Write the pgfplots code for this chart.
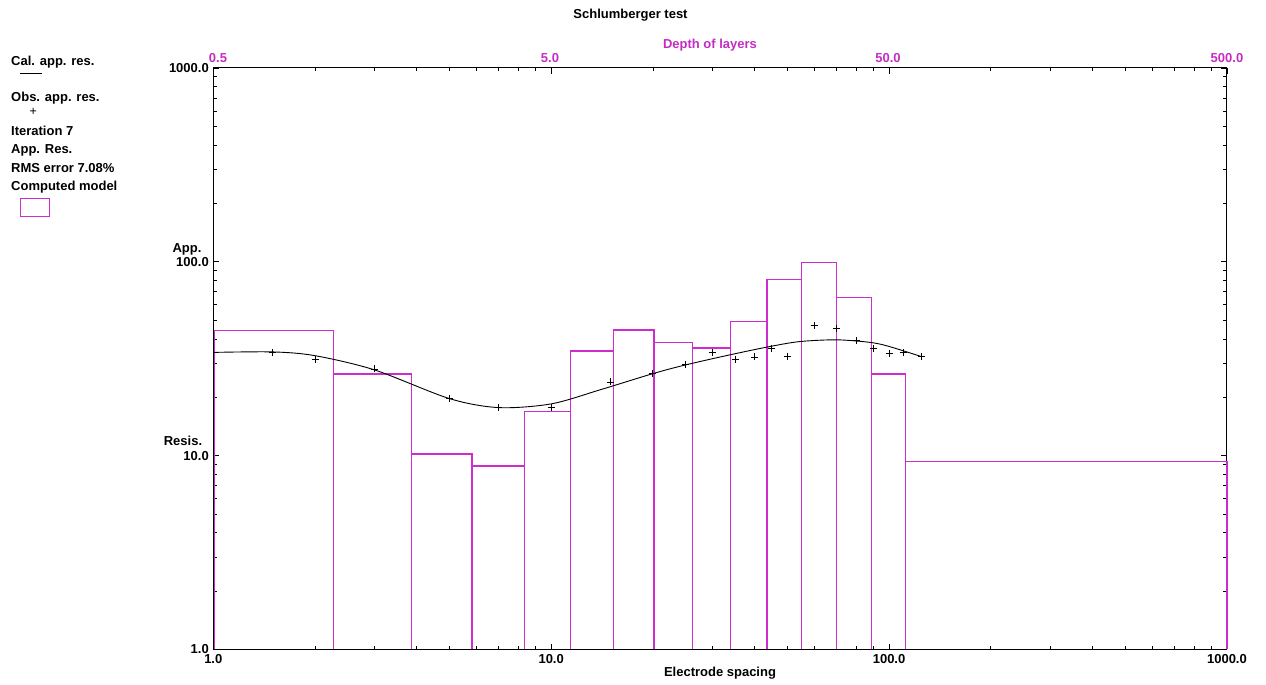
\documentclass[border=0pt]{standalone}
\usepackage{fontspec}
\setmainfont{Liberation Sans}
\usepackage{pgfplots}
\pgfplotsset{compat=1.18}
\definecolor{mag}{RGB}{205,45,205}
\definecolor{magtxt}{RGB}{195,45,195}
\begin{document}
\begin{tikzpicture}[x=1pt,y=1pt]
\tikzset{txt/.style={font=\fontsize{13}{14}\selectfont\bfseries, inner sep=0pt}}
\path[use as bounding box] (0,0) rectangle (1266,685);
\begin{axis}[
  at={(213.3pt,35.5pt)}, anchor=south west, scale only axis,
  width=1013.7pt, height=581.5pt,
  xmode=log, ymode=log,
  xmin=1, xmax=1000, ymin=1, ymax=1000,
  xtick={1,10,100,1000}, xticklabels={1.0,10.0,100.0,1000.0},
  ytick={1,10,100,1000}, yticklabels={1.0,10.0,100.0,1000.0},
  tick label style={font=\fontsize{13}{14}\selectfont\bfseries},
  xticklabel style={yshift=-1pt},
  yticklabel style={xshift=-1pt},
  major tick length=6pt, minor tick length=3.5pt,
  tick style={black, line width=0.8pt},
  axis line style={black, line width=1pt},
  tick align=inside,
  clip=false,
]
% computed model layers
\addplot[mag, line width=1.2pt] coordinates {(1.01,1) (1.01,44.2) (2.265,44.2) (2.265,1)};
\addplot[mag, line width=1.2pt] coordinates {(2.265,1) (2.265,26.4) (3.855,26.4) (3.855,1)};
\addplot[mag, line width=1.2pt] coordinates {(3.855,1) (3.855,10.2) (5.83,10.2) (5.83,1)};
\addplot[mag, line width=1.2pt] coordinates {(5.83,1) (5.83,8.85) (8.36,8.85) (8.36,1)};
\addplot[mag, line width=1.2pt] coordinates {(8.36,1) (8.36,16.9) (11.42,16.9) (11.42,1)};
\addplot[mag, line width=1.2pt] coordinates {(11.42,1) (11.42,34.7) (15.27,34.7) (15.27,1)};
\addplot[mag, line width=1.2pt] coordinates {(15.27,1) (15.27,44.5) (20.15,44.5) (20.15,1)};
\addplot[mag, line width=1.2pt] coordinates {(20.15,1) (20.15,38.3) (26.16,38.3) (26.16,1)};
\addplot[mag, line width=1.2pt] coordinates {(26.16,1) (26.16,35.9) (33.93,35.9) (33.93,1)};
\addplot[mag, line width=1.2pt] coordinates {(33.93,1) (33.93,49.0) (43.51,49.0) (43.51,1)};
\addplot[mag, line width=1.2pt] coordinates {(43.51,1) (43.51,81.3) (55.13,81.3) (55.13,1)};
\addplot[mag, line width=1.2pt] coordinates {(55.13,1) (55.13,99.0) (69.8,99.0) (69.8,1)};
\addplot[mag, line width=1.2pt] coordinates {(69.8,1) (69.8,65.3) (88.8,65.3) (88.8,1)};
\addplot[mag, line width=1.2pt] coordinates {(88.8,1) (88.8,26.4) (111.6,26.4) (111.6,1)};
\addplot[mag, line width=1.2pt] coordinates {(111.6,1) (111.6,9.31) (1000,9.31) (1000,1)};
% calculated apparent resistivity
\addplot[black, line width=0.9pt, smooth] coordinates {
 (1,34.1) (1.5,34.3) (2,32.8) (3,27.7) (5,19.7) (7,17.7) (10,18.5) (14,21.9)
 (20,26.5) (25,29.4) (34,33.2) (44.5,36.6) (54.5,38.8) (70,39.6) (88,38.4)
 (100,36.6) (125,32.4)};
% observed apparent resistivity
\addplot[only marks, mark=+, mark size=3.5pt, black, mark options={line width=0.8pt}] coordinates {
 (1.5,34.2) (2,31.5) (3,28.0) (5,19.7) (7,17.7) (10,17.8) (15,24.0) (20,26.5)
 (25,29.4) (30,34.2) (35,31.5) (40,32.3) (45,35.9) (50,32.5) (60,46.8) (70,45.2)
 (80,39.3) (90,35.7) (100,33.7) (110,34.2) (125,32.5)};
\end{axis}
% titles and labels
\node[txt] at (630.5,670) {Schlumberger test};
\node[txt, text=magtxt] at (710,640) {Depth of layers};
\node[txt, text=magtxt] at (218,627) {0.5};
\node[txt, text=magtxt] at (550,627) {5.0};
\node[txt, text=magtxt] at (888,627) {50.0};
\node[txt, text=magtxt] at (1227,627) {500.0};
\node[txt] at (720,12) {Electrode spacing};
\node[txt] at (187,436) {App.};
\node[txt] at (183,244) {Resis.};
% legend
\node[txt, anchor=west] at (11,623) {Cal. app. res.};
\draw[black, line width=1pt] (20,611) -- (42,611);
\node[txt, anchor=west] at (11,587) {Obs. app. res.};
\node[font=\fontsize{12.5}{13}\selectfont, inner sep=0pt] at (33.3,573.5) {+};
\node[txt, anchor=west] at (11,554.3) {Iteration 7};
\node[txt, anchor=west] at (11,534.3) {App. Res.};
\node[txt, anchor=west] at (11,516.7) {RMS error 7.08\%};
\node[txt, anchor=west] at (11,498.3) {Computed model};
\draw[mag, line width=1pt] (20.7,468.3) rectangle (49.3,486.7);
\end{tikzpicture}
\end{document}
